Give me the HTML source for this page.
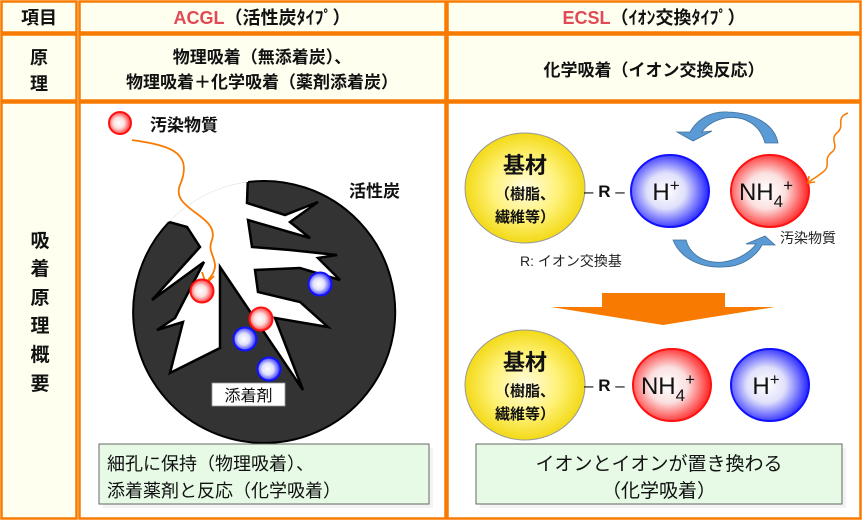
<!DOCTYPE html>
<html><head><meta charset="utf-8"><style>
html,body{margin:0;padding:0;background:#fff;}
svg{display:block;}
text{font-family:"Liberation Sans","Noto Sans CJK JP",sans-serif;}
</style></head><body>
<svg width="864" height="521" viewBox="0 0 864 521" xmlns="http://www.w3.org/2000/svg">
<defs>
<radialGradient id="red" cx="0.45" cy="0.5" r="0.55"><stop offset="0" stop-color="#fff"/><stop offset="0.45" stop-color="#fbe0e0"/><stop offset="1" stop-color="#f22"/></radialGradient>
<radialGradient id="blue" cx="0.45" cy="0.5" r="0.55"><stop offset="0" stop-color="#fff"/><stop offset="0.45" stop-color="#e0e0fb"/><stop offset="1" stop-color="#22f"/></radialGradient>
<radialGradient id="yel" cx="0.5" cy="0.5" r="0.55"><stop offset="0" stop-color="#fffbe0"/><stop offset="0.5" stop-color="#fff27a"/><stop offset="1" stop-color="#f0d400"/></radialGradient>
<clipPath id="cc"><circle cx="264" cy="312" r="131"/></clipPath>
</defs>
<g fill="#fffff0" stroke="#f87a00" stroke-width="2.5">
<rect x="1.5" y="1.5" width="75" height="31"/>
<rect x="79.5" y="1.5" width="366" height="31"/>
<rect x="447.5" y="1.5" width="413" height="31"/>
<rect x="1.5" y="34.5" width="75" height="66"/>
<rect x="79.5" y="34.5" width="366" height="66"/>
<rect x="447.5" y="34.5" width="413" height="66"/>
<rect x="1.5" y="102.5" width="75" height="416"/>
<rect x="79.5" y="102.5" width="366" height="416" fill="#fff"/>
<rect x="447.5" y="102.5" width="413" height="416" fill="#fff"/>
</g>
<g font-size="18" font-weight="bold" fill="#111" text-anchor="middle">
<text x="39" y="24">項目</text>
<text x="262" y="24"><tspan fill="#e04a55">ACGL</tspan>（活性炭ﾀｲﾌﾟ）</text>
<text x="654" y="24"><tspan fill="#e04a55">ECSL</tspan>（ｲｵﾝ交換ﾀｲﾌﾟ）</text>
<text x="39" y="64">原</text>
<text x="39" y="90">理</text>
<text x="262" y="63" font-size="17">物理吸着（無添着炭）、</text>
<text x="262" y="88" font-size="17">物理吸着＋化学吸着（薬剤添着炭）</text>
<text x="654" y="76" font-size="17">化学吸着（イオン交換反応）</text>
</g>
<g font-size="19" fill="#111" text-anchor="middle" font-weight="bold">
<text x="40" y="247">吸</text><text x="40" y="275">着</text><text x="40" y="304">原</text><text x="40" y="332">理</text><text x="40" y="361">概</text><text x="40" y="390">要</text>
</g>
<circle cx="264" cy="312" r="131" fill="#333"/>
<g clip-path="url(#cc)">
<polygon fill="#fff" stroke="#000" stroke-width="2.5" points="150,205 169,222 187,227 200,247 152,300 204,262 175,318 157,330 183,322 170,373 220,348 220,267 303,390 275,318 328,327 300,302 258,292 255,270 300,268 340,280 318,258 337,255 290,250 252,247 248,220 310,238 290,222 318,202 285,215 247,203 248,175 200,160"/>
</g>
<path d="M248.1,182 A131,131 0 1 1 169,222" fill="none" stroke="#000" stroke-width="2"/>
<path d="M132,140 C165,145 195,150 180,185 C170,210 220,215 212,240 C205,255 225,262 208,280" fill="none" stroke="#f87a00" stroke-width="1.8"/>
<path d="M202,272 L206,284 L214,276" fill="none" stroke="#f87a00" stroke-width="1.8"/>
<g stroke-width="2">
<circle cx="120" cy="123" r="11" fill="url(#red)" stroke="#f11"/>
<circle cx="202" cy="291" r="11.5" fill="url(#red)" stroke="#f11"/>
<circle cx="261" cy="319" r="11.5" fill="url(#red)" stroke="#f11"/>
<circle cx="320" cy="284" r="11.5" fill="url(#blue)" stroke="#11f"/>
<circle cx="245" cy="339" r="11.5" fill="url(#blue)" stroke="#11f"/>
<circle cx="269" cy="369" r="11.5" fill="url(#blue)" stroke="#11f"/>
</g>
<text x="150" y="131" font-size="17" font-weight="bold" fill="#111">汚染物質</text>
<text x="349" y="197" font-size="17" font-weight="bold" fill="#111">活性炭</text>
<rect x="212" y="383" width="73" height="23" fill="#fff" stroke="#999" stroke-width="0.8"/>
<text x="248.5" y="401" font-size="16" fill="#111" text-anchor="middle">添着剤</text>
<rect x="103" y="448" width="330" height="60" fill="#eee" opacity="0.7"/>
<rect x="99" y="444" width="330" height="60" fill="#e6fae6" stroke="#666" stroke-width="1"/>
<text x="107" y="470" font-size="18" fill="#111">細孔に保持（物理吸着）、</text>
<text x="107" y="497" font-size="18" fill="#111">添着薬剤と反応（化学吸着）</text>
<rect x="480" y="448" width="366" height="60" fill="#eee" opacity="0.7"/>
<rect x="476" y="444" width="366" height="60" fill="#e6fae6" stroke="#666" stroke-width="1"/>
<text x="659" y="470" font-size="19" fill="#111" text-anchor="middle">イオンとイオンが置き換わる</text>
<text x="659" y="497" font-size="19" fill="#111" text-anchor="middle">（化学吸着）</text>
<ellipse cx="525" cy="188" rx="60" ry="55" fill="url(#yel)" stroke="#999" stroke-width="1"/>
<ellipse cx="525" cy="385" rx="60" ry="55" fill="url(#yel)" stroke="#999" stroke-width="1"/>
<g text-anchor="middle" fill="#111">
<text x="525" y="173" font-size="22" font-weight="bold">基材</text>
<text x="525" y="199" font-size="15" font-weight="bold">（樹脂、</text>
<text x="525" y="222" font-size="15" font-weight="bold">繊維等）</text>
<text x="525" y="370" font-size="22" font-weight="bold">基材</text>
<text x="525" y="396" font-size="15" font-weight="bold">（樹脂、</text>
<text x="525" y="419" font-size="15" font-weight="bold">繊維等）</text>
</g>
<text x="584" y="197" font-size="17" fill="#111">– <tspan font-weight="bold">R</tspan> –</text>
<text x="584" y="391" font-size="17" fill="#111">– <tspan font-weight="bold">R</tspan> –</text>
<g stroke-width="2">
<ellipse cx="670" cy="191" rx="39" ry="36" fill="url(#blue)" stroke="#11f"/>
<ellipse cx="770" cy="191" rx="39" ry="36" fill="url(#red)" stroke="#f11"/>
<ellipse cx="672" cy="385" rx="39" ry="36" fill="url(#red)" stroke="#f11"/>
<ellipse cx="770" cy="385" rx="39" ry="36" fill="url(#blue)" stroke="#11f"/>
</g>
<g font-size="24" fill="#111" text-anchor="middle">
<text x="666" y="200">H<tspan font-size="17" dy="-9">+</tspan></text>
<text x="766" y="200">NH<tspan font-size="17" dy="7">4</tspan><tspan font-size="17" dy="-16">+</tspan></text>
<text x="668" y="394">NH<tspan font-size="17" dy="7">4</tspan><tspan font-size="17" dy="-16">+</tspan></text>
<text x="766" y="394">H<tspan font-size="17" dy="-9">+</tspan></text>
</g>
<text x="520" y="266" font-size="14" fill="#222">R: イオン交換基</text>
<text x="780" y="243" font-size="14" fill="#222">汚染物質</text>
<path d="M778,143 L765,143 C760,125 745,115 725,118 C712,121 705,127 702,132 L712,131 L693,141 L677,132 L690,132 C698,118 712,111 728,112 C755,113 775,125 778,143 Z" fill="#5a9bd5" stroke="#41719c" stroke-width="0.8"/>
<path d="M673,240 L686,240 C690,255 705,264 723,262 C740,260 752,250 756,244 L746,244 L765,236 L775,245 L762,245 C755,258 740,267 723,267 C700,268 680,258 673,240 Z" fill="#5a9bd5" stroke="#41719c" stroke-width="0.8"/>
<polygon points="602,293 725,293 725,307 775,307 663,325 551,307 602,307" fill="#f87a00"/>
<path d="M848,113 C835,118 845,125 838,132 C828,140 840,145 832,152 C822,160 832,165 823,172 C818,176 813,179 809,182" fill="none" stroke="#f87a00" stroke-width="1.5"/>
<path d="M809,176 L808,183 L815,182" fill="none" stroke="#f87a00" stroke-width="1.5"/>
</svg>
</body></html>
